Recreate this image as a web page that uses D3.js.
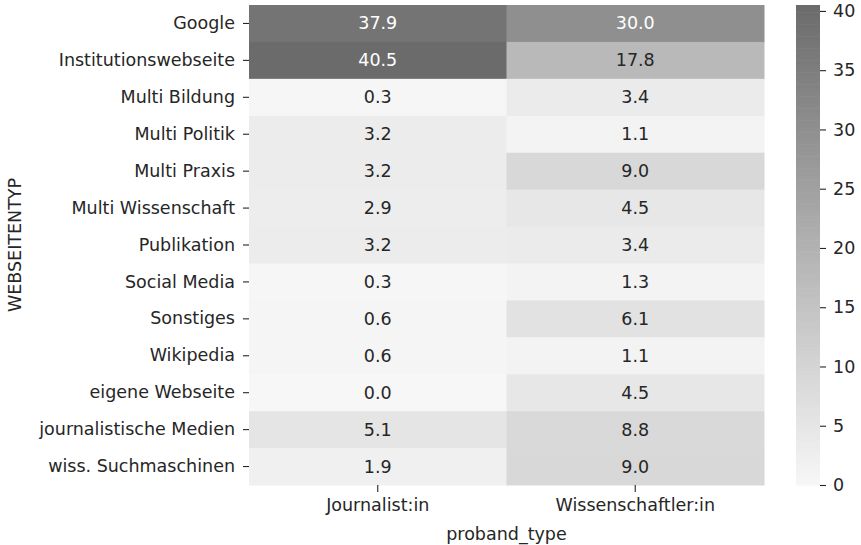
<!DOCTYPE html>
<html><head><meta charset="utf-8">
<script src="https://cdn.jsdelivr.net/npm/d3@7"></script>
<style>body{margin:0;background:#fff}svg{display:block}text{font-family:"DejaVu Sans",sans-serif;}</style>
</head><body><svg id="c" width="861" height="545"></svg>
<script>
const categories = ["Google","Institutionswebseite","Multi Bildung","Multi Politik","Multi Praxis","Multi Wissenschaft","Publikation","Social Media","Sonstiges","Wikipedia","eigene Webseite","journalistische Medien","wiss. Suchmaschinen"];
const groups = ["Journalist:in","Wissenschaftler:in"];
const journalist = [37.9,40.5,0.3,3.2,3.2,2.9,3.2,0.3,0.6,0.6,0.0,5.1,1.9];
const wissenschaftler = [30.0,17.8,3.4,1.1,9.0,4.5,3.4,1.3,6.1,1.1,4.5,8.8,9.0];
const colorTicks = [0,5,10,15,20,25,30,35,40];
const vmin = 0, vmax = 40.5;

const series = [journalist, wissenschaftler];
const cells = [];
categories.forEach((c,i)=>groups.forEach((g,j)=>cells.push({c,g,v:series[j][i]})));

const svg = d3.select("#c");
const fs = 17.5;
const L=249, R=764, T=5, B=485;
const x = d3.scaleBand().domain(groups).range([L,R]);
const y = d3.scaleBand().domain(categories).range([T,B]);
const color = d3.scaleLinear().domain([vmin,vmax]).range(["#f7f7f7","#6b6b6b"]).clamp(true);

svg.append("g").selectAll("rect").data(cells).join("rect")
  .attr("x",d=>x(d.g)).attr("y",d=>y(d.c))
  .attr("width",x.bandwidth()+0.5).attr("height",y.bandwidth()+0.5)
  .attr("fill",d=>color(d.v));

function textCol(v){
  const c = d3.rgb(color(v));
  const lin = u=>{u/=255;return u<=0.03928?u/12.92:Math.pow((u+0.055)/1.055,2.4);};
  const lum = 0.2126*lin(c.r)+0.7152*lin(c.g)+0.0722*lin(c.b);
  return lum>0.408?"#262626":"#ffffff";
}
svg.append("g").selectAll("text").data(cells).join("text")
  .attr("x",d=>x(d.g)+x.bandwidth()/2).attr("y",d=>y(d.c)+y.bandwidth()/2)
  .attr("text-anchor","middle").attr("dominant-baseline","central")
  .attr("font-size",fs).attr("fill",d=>textCol(d.v))
  .text(d=>d.v.toFixed(1));

const yAxis = svg.append("g").attr("transform",`translate(${L},0)`)
  .call(d3.axisLeft(y).tickSize(6).tickPadding(8));
const xAxis = svg.append("g").attr("transform",`translate(0,${B})`)
  .call(d3.axisBottom(x).tickSize(7).tickPadding(7));
[yAxis,xAxis].forEach(a=>{
  a.select(".domain").remove();
  a.selectAll("line").attr("stroke","#262626").attr("stroke-width",1.1);
  a.selectAll("text").attr("font-size",fs).attr("fill","#262626").attr("font-family","DejaVu Sans");
});

svg.append("text").attr("x",(L+R)/2).attr("y",540).attr("text-anchor","middle")
  .attr("font-size",fs).attr("fill","#262626").text("proband_type");
svg.append("text").attr("transform",`translate(21,${(T+B)/2}) rotate(-90)`).attr("text-anchor","middle")
  .attr("font-size",fs).attr("fill","#262626").text("WEBSEITENTYP");

// colorbar
const cbL=796, cbW=24;
const cy = d3.scaleLinear().domain([vmin,vmax]).range([B,T]);
const steps = d3.range(0,200);
svg.append("g").selectAll("rect").data(steps).join("rect")
  .attr("x",cbL).attr("width",cbW)
  .attr("y",i=>cy(vmin+(i+1)*(vmax-vmin)/200))
  .attr("height",i=>cy(vmin+i*(vmax-vmin)/200)-cy(vmin+(i+1)*(vmax-vmin)/200)+0.6)
  .attr("fill",i=>color(vmin+(i+0.5)*(vmax-vmin)/200));
const cAxis = svg.append("g").attr("transform",`translate(${cbL+cbW},0)`)
  .call(d3.axisRight(cy).tickValues(colorTicks).tickSize(6).tickPadding(7));
cAxis.select(".domain").remove();
cAxis.selectAll("line").attr("stroke","#262626").attr("stroke-width",1.1);
cAxis.selectAll("text").attr("font-size",fs).attr("fill","#262626").attr("font-family","DejaVu Sans");
</script></body></html>
